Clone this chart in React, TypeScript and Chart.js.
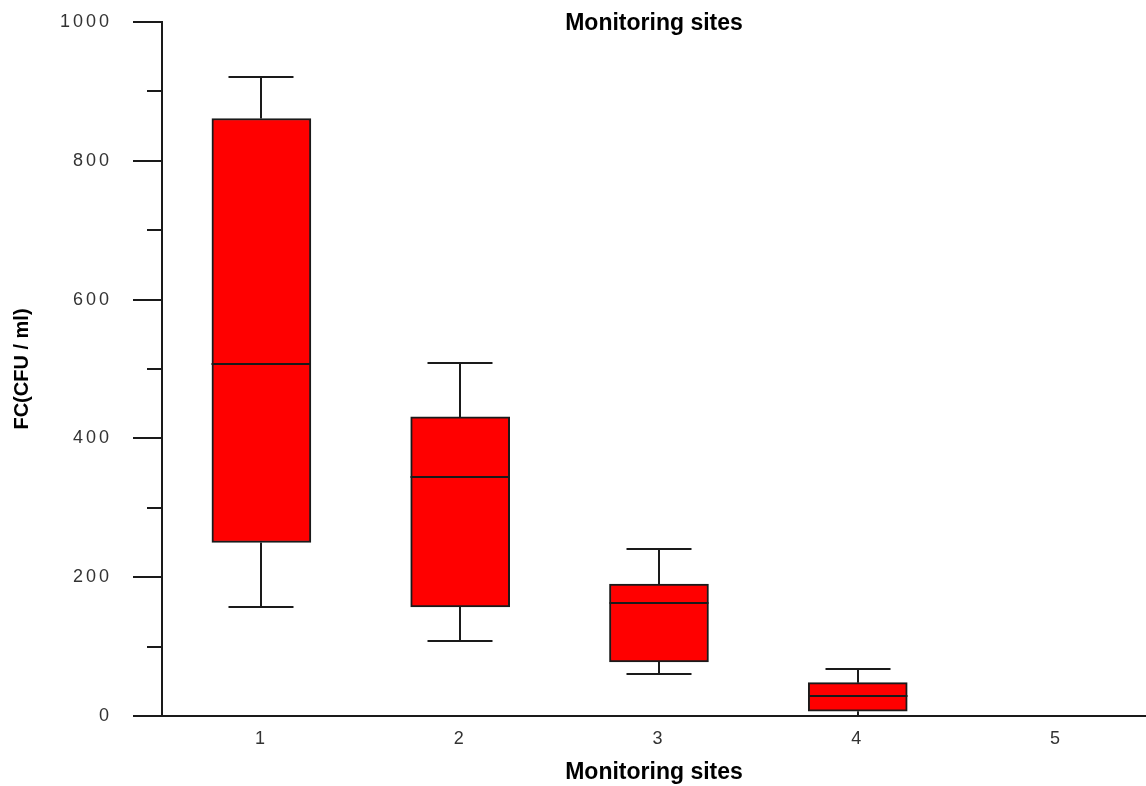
import React, { useEffect, useRef } from "react";
import { Chart, registerables } from "chart.js";

Chart.register(...registerables);

// ---- data ----
const sites: number[] = [1, 2, 3, 4, 5];
const minVals: (number | null)[] = [157, 108, 60, 0, null];
const q1Vals: (number | null)[] = [250, 157, 78, 7, null];
const medianVals: (number | null)[] = [507, 344, 163, 29, null];
const q3Vals: (number | null)[] = [861, 431, 190, 48, null];
const maxVals: (number | null)[] = [921, 508, 240, 68, null];

const yMajorTicks: number[] = [0, 200, 400, 600, 800, 1000];
const yMinorTicks: number[] = [100, 300, 500, 700, 900];

const titleText = "Monitoring sites";
const xTitleText = "Monitoring sites";
const yTitleText = "FC(CFU / ml)";

// ---- styles ----
const RED = "#ff0000";
const LINE = "#1a1a1a";
const BOX_W = 99;
const CAP_W = 65;
const MAJOR_LEN = 29;
const MINOR_LEN = 15;
const FONT = "'Liberation Sans', Arial, sans-serif";

const boxPlugin = {
  id: "boxWhiskers",
  beforeDraw(chart: any) {
    chart.ctx.letterSpacing = "0px";
  },
  afterDatasetsDraw(chart: any) {
    const ctx = chart.ctx as CanvasRenderingContext2D;
    const xs = chart.scales.x;
    const ys = chart.scales.y;
    ctx.save();
    ctx.strokeStyle = LINE;
    ctx.lineWidth = 2;
    ctx.lineCap = "butt";
    sites.forEach((s, i) => {
      const med = medianVals[i];
      if (med == null) return;
      const cx = Math.round(xs.getPixelForValue(s));
      const yMax = Math.round(ys.getPixelForValue(maxVals[i] as number));
      const yQ3 = ys.getPixelForValue(q3Vals[i] as number);
      const yQ1 = ys.getPixelForValue(q1Vals[i] as number);
      const yMin = Math.round(ys.getPixelForValue(minVals[i] as number));
      const yMed = Math.round(ys.getPixelForValue(med));
      ctx.beginPath();
      ctx.moveTo(cx, yQ3);
      ctx.lineTo(cx, yMax);
      ctx.moveTo(cx - CAP_W / 2, yMax);
      ctx.lineTo(cx + CAP_W / 2, yMax);
      ctx.moveTo(cx, yQ1);
      ctx.lineTo(cx, yMin);
      if (yMin < ys.getPixelForValue(0) - 2) {
        ctx.moveTo(cx - CAP_W / 2, yMin);
        ctx.lineTo(cx + CAP_W / 2, yMin);
      }
      ctx.moveTo(cx - BOX_W / 2, yMed);
      ctx.lineTo(cx + BOX_W / 2, yMed);
      ctx.stroke();
    });
    const ax = ys.right;
    ctx.beginPath();
    yMajorTicks.forEach((v) => {
      const py = Math.round(ys.getPixelForValue(v));
      ctx.moveTo(ax - MAJOR_LEN, py);
      ctx.lineTo(ax, py);
    });
    yMinorTicks.forEach((v) => {
      const py = Math.round(ys.getPixelForValue(v));
      ctx.moveTo(ax - MINOR_LEN, py);
      ctx.lineTo(ax, py);
    });
    ctx.stroke();
    ctx.restore();
    ctx.letterSpacing = "3px";
  },
  afterDraw(chart: any) {
    const ctx = chart.ctx as CanvasRenderingContext2D;
    ctx.letterSpacing = "0px";
    const area = chart.chartArea;
    ctx.save();
    ctx.fillStyle = "#000";
    ctx.font = `bold 23px ${FONT}`;
    ctx.textAlign = "center";
    ctx.textBaseline = "middle";
    ctx.fillText(titleText, (area.left + area.right) / 2, 24);
    ctx.restore();
  },
};

export default function App() {
  const ref = useRef<HTMLCanvasElement | null>(null);
  useEffect(() => {
    if (!ref.current) return;
    const boxData = sites
      .map((s, i) =>
        q1Vals[i] == null ? null : { x: s, y: [q1Vals[i] as number, q3Vals[i] as number] }
      )
      .filter((d) => d !== null);
    const chart = new Chart(ref.current, {
      type: "bar",
      data: {
        datasets: [
          {
            data: boxData as any,
            backgroundColor: RED,
            borderColor: LINE,
            borderWidth: 2,
            borderSkipped: false,
            barThickness: BOX_W,
          } as any,
        ],
      },
      options: {
        animation: false,
        responsive: false,
        devicePixelRatio: 1,
        layout: { padding: { top: 22, left: 0, right: 0, bottom: 0 } },
        plugins: {
          legend: { display: false },
          tooltip: { enabled: false },
        },
        scales: {
          x: {
            type: "linear",
            min: 0.5,
            max: 5.45,
            offset: false,
            afterBuildTicks: (scale: any) => {
              scale.ticks = sites.map((v) => ({ value: v }));
            },
            afterFit: (scale: any) => {
              scale.height = 70;
              scale.paddingLeft = 0;
              scale.paddingRight = 0;
            },
            grid: { display: false, drawTicks: false },
            border: { display: true, color: LINE, width: 2 },
            ticks: {
              z: 1,
              padding: 12,
              color: "#333",
              font: { family: FONT, size: 18 },
              callback: (v: any) => String(v),
            },
            title: {
              display: true,
              text: xTitleText,
              color: "#000",
              font: { family: FONT, size: 23, weight: "bold" },
              padding: { top: 0, bottom: 0 },
            },
          },
          y: {
            type: "linear",
            min: 0,
            max: 1000,
            afterBuildTicks: (scale: any) => {
              scale.ticks = yMajorTicks.map((v) => ({ value: v }));
            },
            afterFit: (scale: any) => {
              scale.width = 162;
              scale.paddingTop = 0;
              scale.paddingBottom = 0;
            },
            grid: { display: false, drawTicks: false },
            border: { display: true, color: LINE, width: 2 },
            ticks: {
              z: 1,
              padding: 50,
              color: "#333",
              font: { family: FONT, size: 18 },
              callback: (v: any) => String(v),
            },
            title: {
              display: true,
              text: yTitleText,
              color: "#000",
              font: { family: FONT, size: 20, weight: "bold" },
              padding: { top: 10, bottom: 0 },
            },
          },
        },
      } as any,
      plugins: [boxPlugin],
    });
    return () => chart.destroy();
  }, []);
  return (
    <div style={{ position: "fixed", left: 0, top: 0, width: 1146, height: 786, background: "#fff" }}>
      <canvas ref={ref} width={1146} height={786} style={{ display: "block" }} />
    </div>
  );
}
